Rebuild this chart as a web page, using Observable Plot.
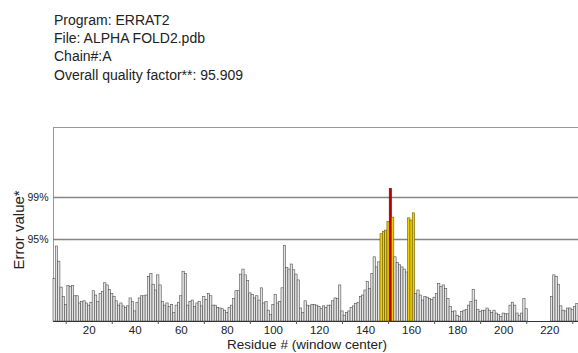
<!DOCTYPE html>
<html><head><meta charset="utf-8">
<script src="https://cdn.jsdelivr.net/npm/d3@7"></script>
<script src="https://cdn.jsdelivr.net/npm/@observablehq/plot@0.6"></script>
<style>
body{margin:0;background:#fff;font-family:"Liberation Sans",Arial,sans-serif;}
#head{height:126px;box-sizing:border-box;padding:11px 0 0 54px;font-size:14px;line-height:18.2px;color:#222;}
#chart svg{display:block;}
</style></head><body>
<div id="head"></div>
<div id="chart"></div>
<script>
const headerLines = ["Program: ERRAT2", "File: ALPHA FOLD2.pdb", "Chain#:A", "Overall quality factor**: 95.909"];
const xTitle = "Residue # (window center)";
const yTitle = "Error value*";

// Residue segments (window centers) and error values
const segmentStarts = [5, 221];
const segmentValues = [
  [5.9,10.4,8.3,4.7,3.4,2.3,4.9,4.8,4.9,3.5,
   3.5,2.5,2.7,2.8,2.5,2.2,2.6,4.2,3.6,2.7,
   3.8,4.1,5.3,5.0,4.4,3.8,3.4,2.8,2.2,2.5,
   2.1,1.9,2.1,3.2,2.7,1.4,2.6,3.2,3.5,3.5,
   3.6,6.2,6.6,5.1,4.3,6.4,5.0,2.7,2.2,2.5,
   2.0,2.3,1.2,2.2,2.6,3.5,6.9,6.6,2.2,2.7,
   2.9,2.0,2.5,2.7,2.1,3.4,3.0,3.8,3.5,2.2,
   2.2,1.9,1.8,1.7,1.5,1.2,1.9,2.2,3.1,4.2,
   4.2,6.5,7.2,6.4,5.6,3.9,3.7,3.2,3.5,2.9,
   4.6,2.5,2.7,1.5,0.9,2.3,3.7,2.5,2.7,4.6,
   10.5,7.4,7.2,7.9,7.1,6.5,5.7,1.8,1.2,2.8,
   2.2,2.1,2.3,2.3,2.2,2.0,1.7,2.1,1.9,2.2,
   2.2,2.8,3.2,3.1,5.0,1.4,0.8,1.2,1.4,1.9,
   2.1,2.4,2.6,3.4,3.6,4.3,5.5,4.5,6.6,8.9,
   7.5,8.2,12.1,12.4,12.6,13.8,18.4,14.4,8.9,8.1,
   7.8,7.5,7.2,6.8,14.3,14.0,15.0,3.8,4.3,3.6,
   2.9,3.4,3.3,3.1,3.0,3.3,3.8,5.2,4.8,5.0,
   4.5,3.1,2.0,1.3,1.4,0.8,0.6,1.3,1.5,1.6,
   2.2,2.7,4.4,2.9,1.6,1.3,1.5,1.5,1.8,1.5,
   1.2,1.5,1.1,0.9,0.6,1.1,1.0,1.0,2.2,2.6,
   2.2,1.1,0.8,1.1,3.1,1.7],
  [3.4,6.4,6.2,5.1,2.1,1.5,1.4,1.8,1.8,1.6,2.0,2.4]
];
const thresholdValues = [11.38, 17.19];
const thresholdLabels = ["95%", "99%"];
const xLabelTicks = [20,40,60,80,100,120,140,160,180,200,220];
const xMinorTicks = [10,30,50,70,90,110,130,150,170,190,210,230];

const data = [];
segmentStarts.forEach((s, k) => segmentValues[k].forEach((v, i) => data.push({r: s + i, v})));

document.getElementById("head").innerHTML = headerLines.map(t => `<div>${t}</div>`).join("");

const fillFor = d => d.v > thresholdValues[1] ? "#b80000" : d.v > thresholdValues[0] ? "#f0d000" : "#e4e4e4";
const strokeFor = d => d.v > thresholdValues[1] ? "#8a0000" : d.v > thresholdValues[0] ? "#6b5800" : "#505050";

const chart = Plot.plot({
  width: 578, height: 227,
  marginTop: 1, marginLeft: 53, marginRight: 0, marginBottom: 32,
  x: {domain: [4.5, 232.48]},
  y: {domain: [0, 26.9]},
  style: {fontFamily: "'Liberation Sans', Arial, sans-serif", color: "#222", background: "#fff"},
  marks: [
    Plot.frame({anchor: "top", stroke: "#999"}),
    Plot.frame({anchor: "left", stroke: "#999"}),
    Plot.ruleY(thresholdValues, {stroke: "#858585", strokeWidth: 1.4}),
    Plot.rectY(data, {x1: d => d.r - 0.5, x2: d => d.r + 0.5, y: "v", fill: fillFor, stroke: strokeFor, strokeWidth: 0.6}),
    Plot.ruleY([0], {stroke: "#333"}),
    Plot.axisX(xLabelTicks, {tickSize: 0, tickPadding: 4, fontSize: 11.5, label: null}),
    Plot.axisX(xMinorTicks, {tickSize: 3, tickFormat: () => "", stroke: "#555", label: null}),
    Plot.axisY(thresholdValues, {tickSize: 0, tickPadding: 5, fontSize: 10.5, label: null,
      tickFormat: d => thresholdLabels[thresholdValues.indexOf(d)]}),
    Plot.text([xTitle], {frameAnchor: "bottom", dx: -9, dy: 23, fontSize: 13.5, lineAnchor: "middle", fill: "#222"}),
    Plot.text([yTitle], {frameAnchor: "left", rotate: -90, dx: -34, dy: 45, fontSize: 15, fill: "#222"})
  ]
});
document.getElementById("chart").appendChild(chart);
</script>
</body></html>
